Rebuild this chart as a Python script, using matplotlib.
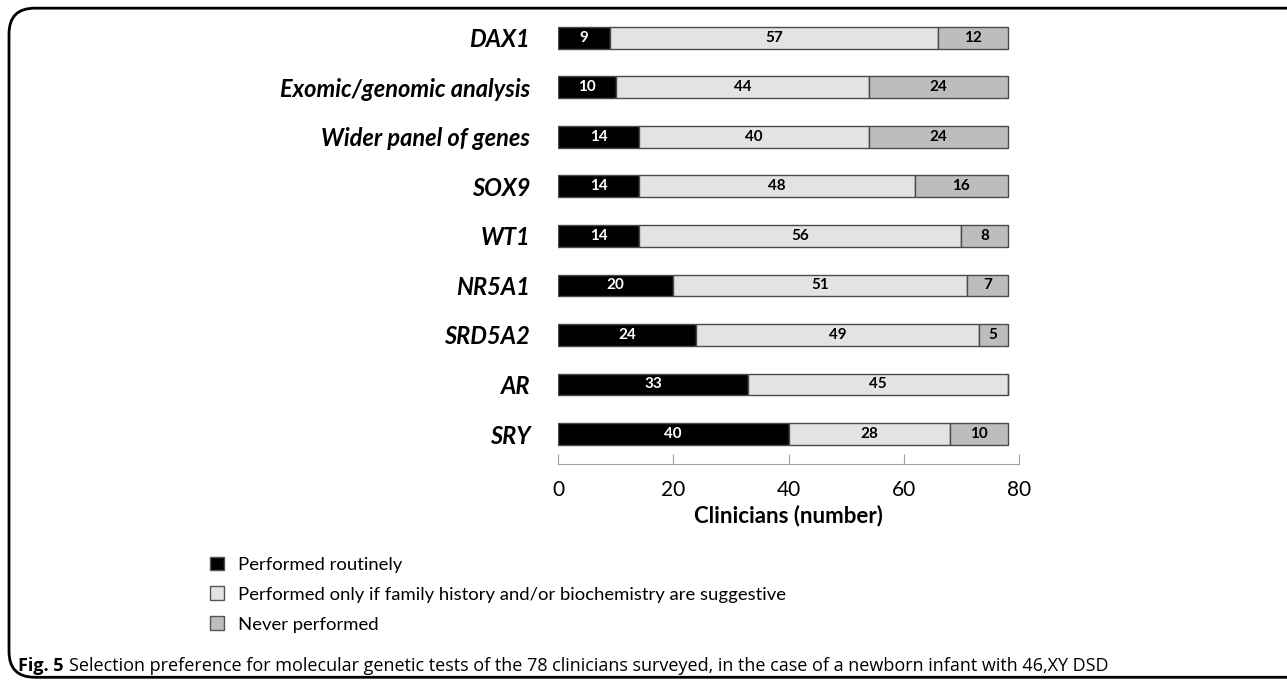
import matplotlib.pyplot as plt
import numpy as np
from matplotlib.patches import FancyBboxPatch, Patch

# data (top to bottom as in the figure)
genes = ['DAX1', 'Exomic/genomic analysis', 'Wider panel of genes', 'SOX9',
         'WT1', 'NR5A1', 'SRD5A2', 'AR', 'SRY']
routinely = [9, 10, 14, 14, 14, 20, 24, 33, 40]
if_suggestive = [57, 44, 40, 48, 56, 51, 49, 45, 28]
never = [12, 24, 24, 16, 8, 7, 5, 0, 10]
legend_labels = ['Performed routinely',
                 'Performed only if family history and/or biochemistry are suggestive',
                 'Never performed']
colors = ['#000000', '#e3e3e3', '#bdbdbd']

plt.rcParams['font.family'] = ['Lato', 'DejaVu Sans']

fig = plt.figure(figsize=(12.87, 6.8), dpi=100)
ax = fig.add_axes([0.4336, 0.318, 0.3582, 0.663])

y = np.arange(len(genes))[::-1]
left = np.zeros(len(genes))
for vals, col in zip([routinely, if_suggestive, never], colors):
    vals = np.array(vals)
    ax.barh(y, vals, left=left, height=0.44, color=col, edgecolor='#4a4a4a', linewidth=1)
    for yi, l, v in zip(y, left, vals):
        if v > 0:
            ax.text(l + v / 2, yi, str(v), ha='center', va='center', fontsize=11,
                    fontweight='bold', color='white' if col == '#000000' else 'black')
    left = left + vals

ax.set_xlim(0, 80)
ax.set_ylim(-0.6, 8.5)
ax.set_yticks(y)
ax.set_yticklabels(genes, fontsize=17, fontweight='bold', fontstyle='italic')
ax.tick_params(axis='y', length=0, pad=20)
ax.set_xticks([0, 20, 40, 60, 80])
ax.tick_params(axis='x', direction='in', length=7, color='#a0a0a0', labelsize=15, pad=12)
for s in ['top', 'right', 'left']:
    ax.spines[s].set_visible(False)
ax.spines['bottom'].set_color('#a0a0a0')
ax.set_xlabel('Clinicians (number)', fontsize=16, fontweight='bold', labelpad=3)

handles = [Patch(facecolor=c, edgecolor='#555555', linewidth=1) for c in colors]
fig.legend(handles, legend_labels, loc='upper left', bbox_to_anchor=(0.150, 0.206),
           frameon=False, fontsize=13.3, handlelength=0.75, handleheight=0.75,
           labelspacing=0.74, handletextpad=0.8)

# rounded frame of the figure panel
frame = FancyBboxPatch((0.007, 0.004), 1.05, 0.984, boxstyle='round,pad=0,rounding_size=0.02',
                       transform=fig.transFigure, facecolor='none', edgecolor='black',
                       linewidth=2, mutation_aspect=1.9)
fig.patches.append(frame)

# caption
t1 = fig.text(0.014, 0.013, 'Fig. 5', fontsize=13, fontweight='bold', family='Open Sans')
ax.annotate('Selection preference for molecular genetic tests of the 78 clinicians '
            'surveyed, in the case of a newborn infant with 46,XY DSD',
            xy=(1, 0), xycoords=t1, xytext=(4, 0), textcoords='offset points',
            va='bottom', fontsize=13, family='Open Sans', annotation_clip=False)

plt.savefig('out.png', dpi=100)
